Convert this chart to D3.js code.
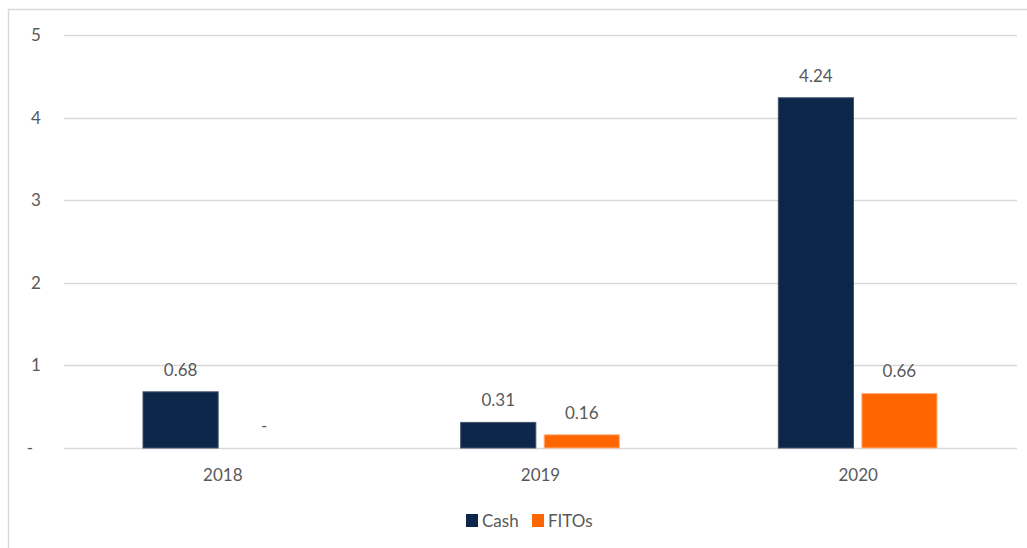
<!DOCTYPE html>
<html>
<head>
<meta charset="utf-8">
<script src="https://cdn.jsdelivr.net/npm/d3@7"></script>
<style>
  body { margin: 0; background: #fff; }
  svg text { font-family: Lato, "Liberation Sans", sans-serif; fill: #595959; }
</style>
</head>
<body>
<div id="chart"></div>
<script>
// Chart data
var years = ["2018", "2019", "2020"];
var seriesNames = ["Cash", "FITOs"];
var cashValues = [0.68, 0.31, 4.24];
var fitosValues = [0, 0.16, 0.66];
var yTicks = [0, 1, 2, 3, 4, 5];
var seriesColors = ["#0c2749", "#ff6600"];

var width = 1027, height = 548;

var svg = d3.select("#chart").append("svg")
    .attr("width", width)
    .attr("height", height);

// outer frame (only top and left visible)
svg.append("path")
    .attr("d", "M8.5," + height + "V9.5H" + width)
    .attr("fill", "none")
    .attr("stroke", "#d9d9d9")
    .attr("stroke-width", 1.5);

var x = d3.scaleBand()
    .domain(years)
    .range([64, 1017]);

var x1 = d3.scaleBand()
    .domain(seriesNames)
    .range([79, x.bandwidth() - 80])
    .paddingInner(0.1);

var y = d3.scaleLinear()
    .domain([0, 5])
    .range([448, 35]);

// Gridlines
svg.append("g")
    .selectAll("line")
    .data(yTicks)
    .enter()
    .append("line")
    .attr("x1", 64)
    .attr("x2", 1017)
    .attr("y1", function (d) { return Math.round(y(d)) + 0.5; })
    .attr("y2", function (d) { return Math.round(y(d)) + 0.5; })
    .attr("stroke", "#d9d9d9")
    .attr("stroke-width", 1.5);

// Y tick labels
svg.append("g")
    .selectAll("text")
    .data(yTicks)
    .enter()
    .append("text")
    .attr("x", function (d) { return d === 0 ? 30 : 36; })
    .attr("y", function (d) { return y(d) + 6; })
    .attr("text-anchor", "middle")
    .style("font-size", "17px")
    .text(function (d) { return d === 0 ? "-" : d; });

// Bars
var rows = years.map(function (yr, i) {
    return { year: yr, values: [
        { name: "Cash", value: cashValues[i] },
        { name: "FITOs", value: fitosValues[i] }
    ] };
});

var groups = svg.append("g")
    .selectAll("g")
    .data(rows)
    .enter()
    .append("g")
    .attr("transform", function (d) { return "translate(" + x(d.year) + ",0)"; });

groups.selectAll("rect")
    .data(function (d) { return d.values; })
    .enter()
    .append("rect")
    .attr("x", function (d) { return x1(d.name); })
    .attr("y", function (d) { return y(d.value); })
    .attr("width", x1.bandwidth())
    .attr("height", function (d) { return y(0) - y(d.value); })
    .attr("fill", function (d, i) { return seriesColors[i]; })
    .attr("stroke", function (d, i) { return i === 0 ? "#44546a" : "#ffb380"; })
    .attr("stroke-width", function (d) { return d.value > 0 ? 1 : 0; });

// Value labels
groups.selectAll("text")
    .data(function (d) { return d.values; })
    .enter()
    .append("text")
    .attr("x", function (d) { return x1(d.name) + x1.bandwidth() / 2; })
    .attr("y", function (d) { return y(d.value) - 16; })
    .attr("text-anchor", "middle")
    .style("font-size", "17px")
    .text(function (d) { return d.value === 0 ? "-" : d.value.toFixed(2); });

// Category labels
svg.append("g")
    .selectAll("text")
    .data(years)
    .enter()
    .append("text")
    .attr("x", function (d) { return x(d) + x.bandwidth() / 2; })
    .attr("y", 481)
    .attr("text-anchor", "middle")
    .style("font-size", "17px")
    .text(function (d) { return d; });

// Legend
var legendX = [466, 532];
var legend = svg.append("g")
    .selectAll("g")
    .data(seriesNames)
    .enter()
    .append("g")
    .attr("transform", function (d, i) { return "translate(" + legendX[i] + ",514)"; });

legend.append("rect")
    .attr("width", 12)
    .attr("height", 13)
    .attr("fill", function (d, i) { return seriesColors[i]; });

legend.append("text")
    .attr("x", 16)
    .attr("y", 13)
    .style("font-size", "17px")
    .text(function (d) { return d; });
</script>
</body>
</html>
